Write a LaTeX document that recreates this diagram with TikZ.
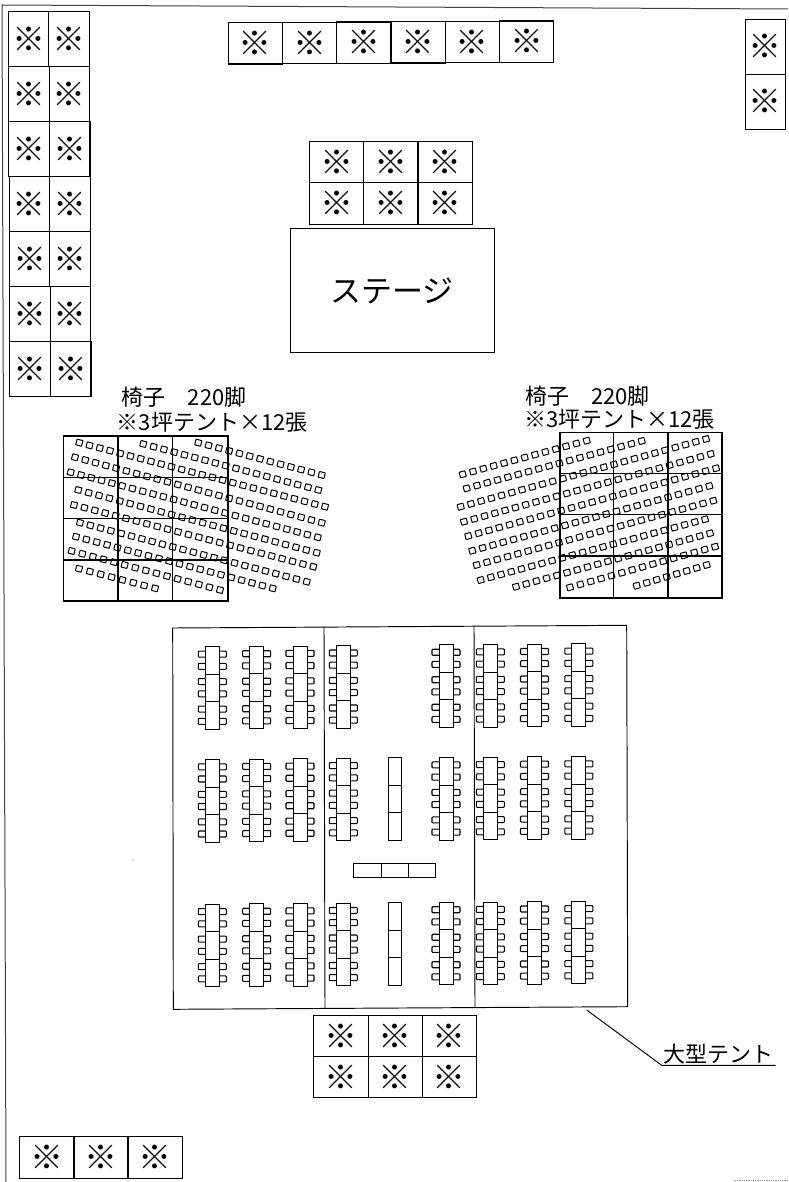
\documentclass[tikz,border=0pt]{standalone}
\usepackage{fontspec}
\setmainfont{Noto Sans CJK JP}
\tikzset{
  tentcell/.style={draw=black,line width=1.1pt,inner sep=0pt,font=\fontsize{33}{33}\selectfont,text=black},
  wide/.style={tentcell,minimum width=54.3pt,minimum height=41.3pt},
  tall/.style={tentcell,minimum width=40.6pt,minimum height=54.9pt},
  gridline/.style={draw=black,line width=1.6pt},
  seat/.style={draw=black,line width=1pt,rounded corners=0.5pt},
  desk/.style={draw=black,line width=0.95pt},
  armchair/.style={draw=black,line width=1.05pt,rounded corners=0.8pt},
  tentline/.style={draw=black,line width=0.95pt},
  caption/.style={anchor=west,inner sep=0pt,font=\fontsize{22}{22}\selectfont},
  frameline/.style={draw=black!75,line width=1pt}
}
\begin{document}
\begin{tikzpicture}[x=1pt,y=-1pt]
\useasboundingbox (0,0) rectangle (788,1182);
% sheet edge
\coordinate (f1) at (2,5);
\coordinate (f2) at (788,9);
\coordinate (f3) at (6,1182);
\draw[frameline] (f3) -- (f1) -- (f2);
\coordinate (g1) at (735,1180.7);
\coordinate (g2) at (788,1180.7);
\draw[draw=black!45,line width=0.8pt,densely dotted] (g1) -- (g2);
\fill[black!70] (133,860) circle (0.7);
% left column of tents
\foreach \r in {0,...,6}{
  \pgfmathsetmacro\yy{39.4+54.9*\r}
  \pgfmathsetmacro\xa{28.6+0.25*\r}
  \pgfmathsetmacro\xb{69.2+0.25*\r}
  \node[tall] (la\r) at (\xa,\yy) {※};
  \node[tall] (lb\r) at (\xb,\yy) {※};
}
% top row
\foreach \i in {0,...,5}{
  \pgfmathsetmacro\xx{255.2+54.3*\i}
  \pgfmathsetmacro\yy{43.4-0.35*\i}
  \node[wide] (t\i) at (\xx,\yy) {※};
}
% top right
\node[tentcell,minimum width=40.3pt,minimum height=54.9pt] (tr0) at (765.2,46.7) {※};
\node[tentcell,minimum width=40.3pt,minimum height=54.9pt] (tr1) at (765.2,101.7) {※};
% front of stage
\foreach \i in {0,1,2}{
  \pgfmathsetmacro\xx{336.5+54.3*\i}
  \node[wide] (sa\i) at (\xx,162.3) {※};
  \node[wide] (sb\i) at (\xx,203.6) {※};
}
% stage
\node[draw=black,line width=1pt,minimum width=204pt,minimum height=124.3pt,inner sep=0pt,font=\fontsize{31}{31}\selectfont] (stage) at (392,290.8) {ステージ};
% captions
\node[caption] (c1) at (121.7,397) {椅子　220脚};
\node[caption] (c2) at (116.7,422.5) {※3坪テント×12張};
\node[caption] (c3) at (525,395.7) {椅子　220脚};
\node[caption] (c4) at (524,419.3) {※3坪テント×12張};
% left chairs
\foreach \xa/\ya/\xb/\yb/\cnt in {
  198.3/442.7/321.7/475/13,
  143.3/444/318.3/490/18,
  79.3/442.7/325/506.7/25,
  75/457.3/321.7/522.7/25,
  70.7/472.3/317.7/537.3/25,
  78.3/490/316.7/552.7/24,
  74/505/313.3/566.7/24,
  80/522.7/306.7/581.7/23,
  76/536.7/272.7/588.3/20,
  71.7/551/220/590/15,
  79/568.7/155/588.3/8}{
  \pgfmathtruncatemacro\last{\cnt-1}
  \foreach \k in {0,...,\last}{
    \pgfmathsetmacro\px{\xa+(\xb-\xa)*\k/\last}
    \pgfmathsetmacro\py{\ya+(\yb-\ya)*\k/\last}
    \draw[seat,shift={(\px,\py)},rotate=-14] (-3,-2.9) rectangle (3,2.9);
  }
}
% right chairs
\foreach \xa/\ya/\xb/\yb/\cnt in {
  462.7/474.3/586.7/440.7/13,
  466.7/488.3/641.7/441/18,
  460.7/506.7/706/439/25,
  464/521.7/710.7/454/25,
  468.3/536/716/468.3/25,
  472.3/550.7/709.3/486/24,
  476.7/565/713.3/500.7/24,
  480.7/580/705/519.3/23,
  516/586.7/710/533.3/20,
  570/587.3/715/546.7/15,
  636.7/585.7/706.7/565/8}{
  \pgfmathtruncatemacro\last{\cnt-1}
  \foreach \k in {0,...,\last}{
    \pgfmathsetmacro\px{\xa+(\xb-\xa)*\k/\last}
    \pgfmathsetmacro\py{\ya+(\yb-\ya)*\k/\last}
    \draw[seat,shift={(\px,\py)},rotate=15] (-3,-2.9) rectangle (3,2.9);
  }
}
% tent grids over the chairs
\draw[gridline] (63.3,436) rectangle (227.7,600.7);
\foreach \x in {117.7,172.3}{\draw[gridline] (\x,436) -- (\x,600.7);}
\foreach \y in {477.3,518.3,560}{\draw[gridline] (63.3,\y) -- (227.7,\y);}
\draw[gridline] (560,432.3) rectangle (722,597.7);
\foreach \x in {613.3,667.7}{\draw[gridline] (\x,432.3) -- (\x,597.7);}
\foreach \y in {473.3,514.3,555.7}{\draw[gridline] (560,\y) -- (722,\y);}
% large tent
\coordinate (b1) at (172.7,628);
\coordinate (b2) at (626.7,625.3);
\coordinate (b3) at (627.7,1006.7);
\coordinate (b4) at (173.3,1009.3);
\draw[tentline] (b1) -- (b2) -- (b3) -- (b4) -- cycle;
\coordinate (v1) at (324,627);
\coordinate (v2) at (325,1008.5);
\coordinate (v3) at (474,626.2);
\coordinate (v4) at (475,1007.7);
\draw[tentline] (v1) -- (v2);
\draw[tentline] (v3) -- (v4);
% tables with chairs
\foreach \ry in {646.8,759.5,904.3}{
  \foreach \cx/\ci in {205.3/0,249.7/1,293/2,336.3/3,439/5,483.3/6,527.5/7,571.8/8}{
    \pgfmathsetmacro\ty{\ry-0.37*\ci}
    \foreach \m in {0,1,2}{
      \pgfmathsetmacro\my{\ty+27.5*\m}
      \pgfmathsetmacro\ca{\my+7.3}
      \pgfmathsetmacro\cb{\my+19.5}
      \pgfmathsetmacro\rx{\cx+14}
      \draw[desk] (\cx,\my) rectangle +(14,27.5);
      \foreach \cc in {\ca,\cb}{
        \draw[armchair] (\cx,\cc-3) -- ++(-7,0) -- ++(0,6) -- ++(7,0);
        \draw[armchair] (\rx,\cc-3) -- ++(7,0) -- ++(0,6) -- ++(-7,0);
      }
    }
  }
}
% long tables without chairs
\foreach \ry in {757.9,902.9}{
  \foreach \m in {0,1,2}{
    \pgfmathsetmacro\my{\ry+27.5*\m}
    \draw[desk] (388,\my) rectangle +(13.7,27.5);
  }
}
\draw[desk] (353.7,863.7) rectangle (381,877);
\draw[desk] (381,863.7) rectangle (408.7,877);
\draw[desk] (408.7,863.7) rectangle (435.3,877);
% tents below large tent
\foreach \i in {0,1,2}{
  \pgfmathsetmacro\xx{341+54.2*\i}
  \node[wide] (ba\i) at (\xx,1035.8) {※};
  \node[wide] (bb\i) at (\xx,1077.2) {※};
}
% bottom left
\foreach \i in {0,1,2}{
  \pgfmathsetmacro\xx{46.8+54.1*\i}
  \node[wide] (bl\i) at (\xx,1157.5) {※};
}
% leader
\node[anchor=base west,inner sep=0pt,font=\fontsize{22}{22}\selectfont] (big) at (663,1062.5) {大型テント};
\coordinate (l1) at (586.7,1010);
\coordinate (l2) at (661.7,1065.3);
\coordinate (l3) at (775.7,1065.3);
\draw[tentline] (l1) -- (l2) -- (l3);
\end{tikzpicture}
\end{document}
